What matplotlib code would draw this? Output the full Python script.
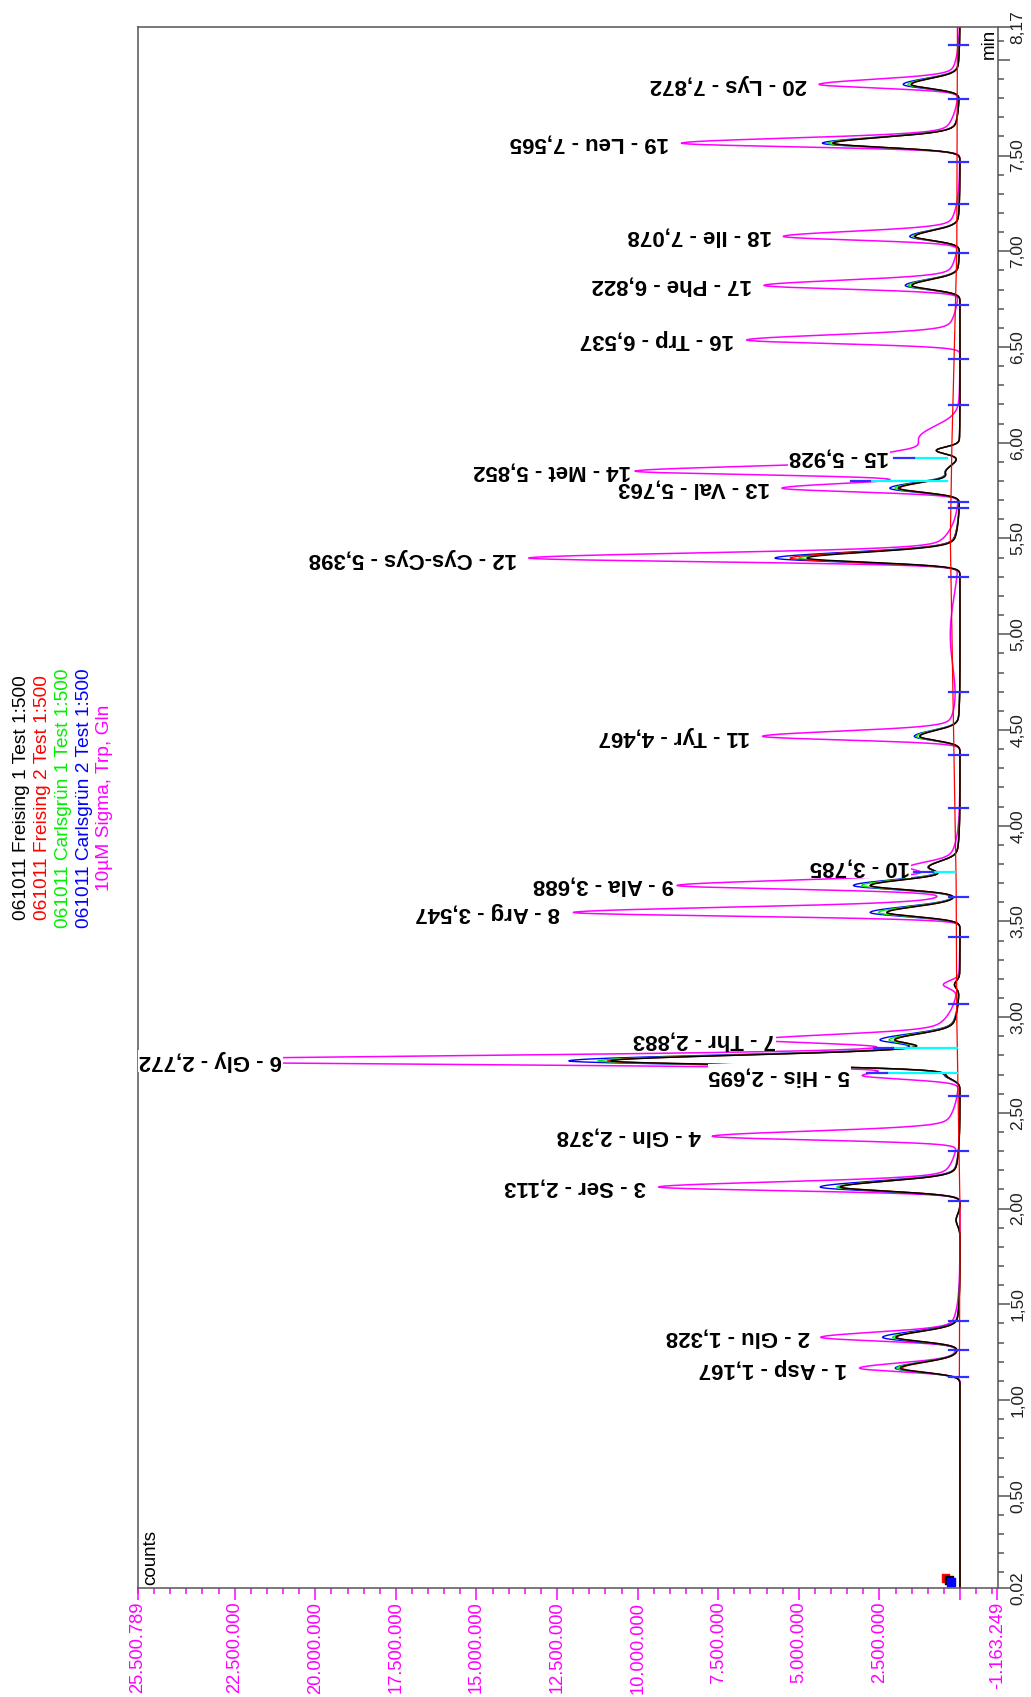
import numpy as np
import matplotlib.pyplot as plt
from matplotlib.ticker import FixedLocator, MultipleLocator

plt.rcParams['font.family'] = ['Liberation Sans', 'DejaVu Sans']

# peak table: retention time (min), heights in million counts
peak_no = list(range(1, 21))
peak_name = ['Asp', 'Glu', 'Ser', 'Gln', 'His', 'Gly', 'Thr', 'Arg', 'Ala', '',
             'Tyr', 'Cys-Cys', 'Val', 'Met', '', 'Trp', 'Phe', 'Ile', 'Leu', 'Lys']
peak_time = [1.167, 1.328, 2.113, 2.378, 2.695, 2.772, 2.883, 3.547, 3.688, 3.785,
             4.467, 5.398, 5.763, 5.852, 5.928, 6.537, 6.822, 7.078, 7.565, 7.872]
std_height = [3.12, 4.26, 9.35, 7.63, 3.0, 25.5, 5.32, 12.0, 8.48, 1.15,
              6.12, 13.34, 5.5, 9.8, 1.8, 6.62, 6.05, 5.44, 8.64, 4.34]
blue_height = [2.01, 2.37, 4.34, 0.0, 0.45, 12.1, 2.11, 2.79, 3.25, 0.85,
               1.42, 5.74, 2.17, 0.35, 0.0, 0.0, 1.70, 1.55, 4.27, 1.75]
green_height = [1.96, 2.06, 3.82, 0.0, 0.4, 11.2, 1.86, 2.53, 3.0, 0.85,
                1.35, 5.0, 2.01, 0.35, 0.0, 0.0, 1.60, 1.45, 4.10, 1.60]
red_height = [1.80, 1.95, 3.70, 0.0, 0.4, 10.9, 1.68, 2.27, 2.74, 0.85,
              1.25, 5.27, 1.86, 0.35, 0.0, 0.0, 1.50, 1.40, 3.95, 1.50]
black_height = [1.86, 1.96, 3.72, 0.0, 0.4, 10.8, 1.70, 2.27, 2.74, 0.85,
                1.25, 4.75, 1.91, 0.35, 0.0, 0.0, 1.49, 1.39, 3.94, 1.50]

# small unlabelled humps
extra_time = [1.94, 3.17, 5.0, 5.96, 6.03]
extra_std = [0.0, 0.45, 0.3, 0.0, 1.0]
extra_sample = [0.12, 0.15, 0.0, 0.7, 0.0]
extra_width = [0.03, 0.02, 0.2, 0.018, 0.06]

# integration marks
bound_time = [1.122, 1.261, 1.414, 2.041, 2.30, 2.59, 3.07, 3.417, 3.629, 4.09,
              4.37, 4.70, 5.30, 5.66, 5.69, 6.197, 6.44, 6.72, 6.99, 7.247,
              7.468, 7.793, 8.077]
drop_time = [2.707, 2.837, 3.76, 5.80, 5.922]
drop_top = [2.27, 2.08, 0.83, 2.79, 1.44]
drop_bottom = [0.1, 0.1, 0.15, 0.4, 0.4]
base_time = [1.12, 2.0, 3.0, 3.7, 4.5, 5.5, 6.0, 7.0, 8.17]
base_count = [0.02, 0.0, 0.1, 0.12, 0.2, 0.3, 0.25, 0.1, 0.08]

legend_text = ['061011 Freising 1 Test 1:500', '061011 Freising 2 Test 1:500',
               '061011 Carlsgrün 1 Test 1:500', '061011 Carlsgrün 2 Test 1:500',
               '10µM Sigma, Trp, Gln']
legend_color = ['black', '#ff0000', '#00ee00', '#0000ff', '#ff00ff']

t = np.linspace(0.02, 8.17, 8000)


def peak_shape(t0, s_left, s_right, tail, tau):
    d = t - t0
    front = np.exp(-0.5 * (d / s_left) ** 2)
    back = np.exp(-0.5 * (d / s_right) ** 2)
    expo = np.exp(-np.clip(d, 0, None) / tau)
    return np.where(d < 0, front, (1 - tail) * back + tail * expo)


def build(heights, extra, sl, sr, tail):
    y = np.zeros_like(t)
    for t0, h in zip(peak_time, heights):
        if h > 0:
            y += h * 1e6 * peak_shape(t0, sl, sr, tail, 0.09)
    for t0, h, w in zip(extra_time, extra, extra_width):
        y += h * 1e6 * np.exp(-0.5 * ((t - t0) / w) ** 2)
    return y


fig = plt.figure(figsize=(10.31, 16.97), dpi=100)
ax = fig.add_axes([138 / 1031, 109.3 / 1697, 859.5 / 1031, 1560.4 / 1697])

# standard first, samples over it
ax.plot(build(std_height, extra_std, 0.019, 0.026, 0.12), t, color='#ff00ff', lw=1.1)
traces = [(blue_height, '#0000ff'), (green_height, '#00ee00'),
          (red_height, '#ff0000'), (black_height, 'black')]
for heights, col in traces:
    ax.plot(build(heights, extra_sample, 0.022, 0.030, 0.10), t, color=col, lw=1.0)

ax.plot(np.array(base_count) * 1e6, base_time, color='#ff0000', lw=0.9)
for tb in bound_time:
    ax.plot([-0.25e6, 0.35e6], [tb, tb], color='#3030ff', lw=1.6)
for td, top, bot in zip(drop_time, drop_top, drop_bottom):
    ax.plot([top * 1e6, bot * 1e6], [td, td], color='#00ffff', lw=1.6)
    ax.plot([(top + 0.6) * 1e6, top * 1e6], [td, td], color='#3030ff', lw=1.6)
ax.scatter([0.45e6, 0.35e6, 0.28e6], [0.07, 0.06, 0.05],
           c=['#ff0000', 'black', '#0000ff'], s=30, marker='s', zorder=5)

ax.set_xlim(25500789, -1163249)
ax.set_ylim(0.02, 8.17)

# count axis (bottom, magenta)
xmajor = [25500789] + [v * 2500000 for v in range(9, 0, -1)] + [0, -1163249]
ax.xaxis.set_major_locator(FixedLocator(xmajor))
ax.xaxis.set_minor_locator(MultipleLocator(500000))
ax.set_xticklabels(['' if v == 0 else f'{v:,}'.replace(',', '.') for v in xmajor],
                   rotation=90, fontsize=13.2, color='#ff00ff')
ax.tick_params(axis='x', which='major', length=8.6, width=1.1, color='#ff00ff', pad=1.5)
ax.tick_params(axis='x', which='minor', length=4.3, width=1.1, color='#ff00ff')

# time axis (right)
ymajor = [0.02] + [0.5 * i for i in range(1, 17)] + [8.17]
ax.yaxis.tick_right()
ax.yaxis.set_major_locator(FixedLocator(ymajor))
ax.yaxis.set_minor_locator(MultipleLocator(0.1))
ax.set_yticklabels(['' if v == 8.0 else f'{v:.2f}'.replace('.', ',') for v in ymajor],
                   fontsize=12.5, color='#222222')
ax.tick_params(axis='y', which='major', length=8.6, width=1.1, color='#555555', pad=0.5)
ax.tick_params(axis='y', which='minor', length=4.3, width=1.1, color='#555555')
for lab in ax.get_yticklabels():
    lab.set_rotation(90)
    lab.set_va('center')

for sp in ax.spines.values():
    sp.set_color('#555555')
    sp.set_linewidth(1.1)

ax.text(0.015, 0.002, 'counts', transform=ax.transAxes, rotation=90,
        ha='center', va='bottom', fontsize=13.5)
ax.text(0.991, 0.999, 'min', transform=ax.transAxes, rotation=90,
        ha='center', va='top', fontsize=13.5)

# peak labels, upside down
labels = []
for no, name, t0, h in zip(peak_no, peak_name, peak_time, std_height):
    rt = f'{t0:.3f}'.replace('.', ',')
    s = f'{no} - {name} - {rt}' if name else f'{no} - {rt}'
    txt = ax.text((h + 0.4) * 1e6, t0, s, rotation=180, rotation_mode='anchor',
                  ha='left', va='center', fontsize=16, fontweight='bold', zorder=6,
                  bbox=dict(facecolor='white', edgecolor='none', pad=0.5))
    labels.append(txt)

renderer = fig.canvas.get_renderer()
ax_left = ax.get_window_extent(renderer).x0
for txt in labels:
    bb = txt.get_window_extent(renderer)
    if bb.x0 < ax_left + 1:
        px, py = ax.transData.transform(txt.get_position())
        nx, ny = ax.transData.inverted().transform((px + ax_left + 1 - bb.x0, py))
        txt.set_position((nx, ny))

# legend block
for i, (s, col) in enumerate(zip(legend_text, legend_color)):
    fig.text((22 + 20.7 * i) / 1031, 1 - 798 / 1697, s, rotation=90,
             ha='center', va='center', fontsize=13.8, color=col)

fig.savefig('out.png', dpi=100)
